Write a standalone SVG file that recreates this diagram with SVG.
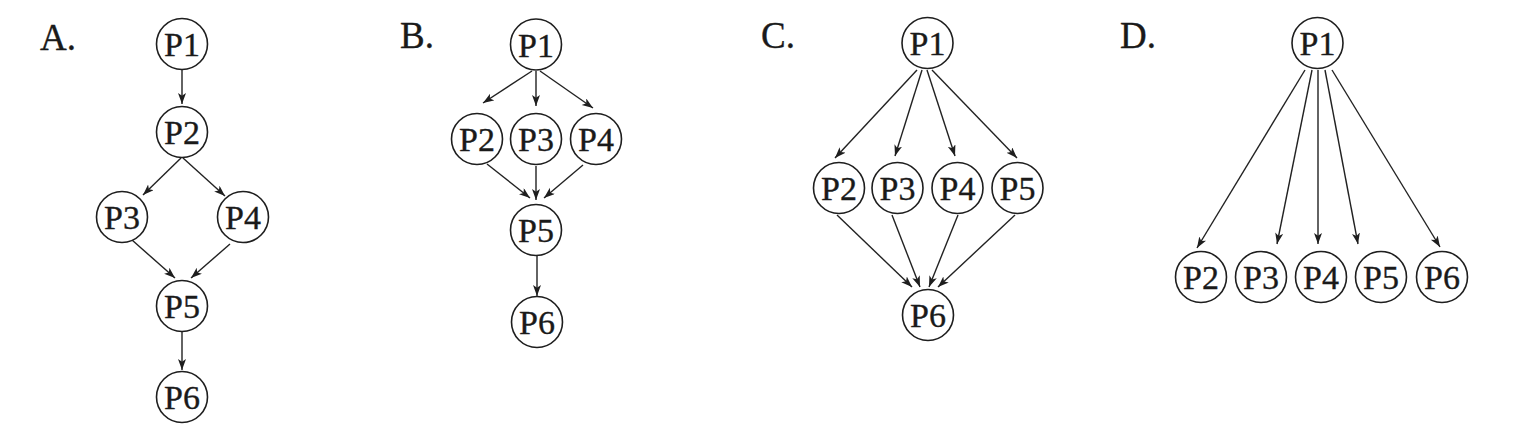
<svg xmlns="http://www.w3.org/2000/svg" width="1523" height="428" viewBox="0 0 1523 428">
<style>
.n circle{fill:#fff;stroke:#1e1e1e;stroke-width:1.6}
.n text,.lbl{font-family:"Liberation Serif","Times New Roman",serif;fill:#1a1a1a;stroke:#1a1a1a;stroke-width:0.35}
.n text{font-size:34px;text-anchor:middle}
.lbl{font-size:37px}
.e line{stroke:#222;stroke-width:1.4;fill:none;marker-end:url(#ah)}
</style>
<defs>
<marker id="ah" markerUnits="userSpaceOnUse" markerWidth="12" markerHeight="9" refX="11" refY="4" orient="auto" viewBox="0 0 12 9">
<path d="M0,0 L11,4 L0,8 L2.8,4 z" fill="#1e1e1e"/>
</marker>
</defs>
<rect width="1523" height="428" fill="#fff"/>
<text class="lbl" x="40" y="50">A.</text>
<text class="lbl" x="400" y="48">B.</text>
<text class="lbl" x="761" y="48">C.</text>
<text class="lbl" x="1120" y="48">D.</text>
<g class="e" id="connectors">
<line x1="182" y1="70" x2="182" y2="104"/>
<line x1="181" y1="158" x2="143" y2="195"/>
<line x1="183" y1="158" x2="225" y2="196"/>
<line x1="132" y1="240" x2="175" y2="278"/>
<line x1="230" y1="244" x2="191" y2="278"/>
<line x1="182" y1="332" x2="182" y2="370"/>
<line x1="532" y1="71" x2="483" y2="103"/>
<line x1="536" y1="71" x2="536" y2="106"/>
<line x1="540" y1="71" x2="593" y2="108"/>
<line x1="487" y1="164" x2="530" y2="198"/>
<line x1="536" y1="166" x2="536" y2="200"/>
<line x1="583" y1="165" x2="544" y2="198"/>
<line x1="537" y1="256" x2="537" y2="296"/>
<line x1="917" y1="70" x2="835" y2="158"/>
<line x1="922" y1="70" x2="895" y2="156"/>
<line x1="927" y1="70" x2="955" y2="156"/>
<line x1="932" y1="70" x2="1017" y2="158"/>
<line x1="837" y1="215" x2="912" y2="287"/>
<line x1="892" y1="215" x2="920" y2="287"/>
<line x1="958" y1="215" x2="929" y2="287"/>
<line x1="1015" y1="215" x2="938" y2="287"/>
<line x1="1305" y1="70" x2="1197" y2="248"/>
<line x1="1312" y1="70" x2="1277" y2="244"/>
<line x1="1318" y1="70" x2="1318" y2="244"/>
<line x1="1325" y1="70" x2="1358" y2="244"/>
<line x1="1332" y1="70" x2="1440" y2="247"/>
</g>
<g class="n" id="A-P1"><circle cx="182" cy="44" r="25.5"/><text x="182" y="56">P1</text></g>
<g class="n" id="A-P2"><circle cx="182" cy="132" r="25.5"/><text x="182" y="144">P2</text></g>
<g class="n" id="A-P3"><circle cx="122" cy="217" r="25.5"/><text x="122" y="229">P3</text></g>
<g class="n" id="A-P4"><circle cx="243" cy="217" r="25.5"/><text x="243" y="229">P4</text></g>
<g class="n" id="A-P5"><circle cx="182" cy="306" r="25.5"/><text x="182" y="318">P5</text></g>
<g class="n" id="A-P6"><circle cx="182" cy="397" r="25.5"/><text x="182" y="409">P6</text></g>
<g class="n" id="B-P1"><circle cx="536" cy="44.5" r="25.5"/><text x="536" y="56.5">P1</text></g>
<g class="n" id="B-P2"><circle cx="477" cy="139" r="25.5"/><text x="477" y="151">P2</text></g>
<g class="n" id="B-P3"><circle cx="536" cy="139" r="25.5"/><text x="536" y="151">P3</text></g>
<g class="n" id="B-P4"><circle cx="596" cy="139" r="25.5"/><text x="596" y="151">P4</text></g>
<g class="n" id="B-P5"><circle cx="536" cy="230" r="25.5"/><text x="536" y="242">P5</text></g>
<g class="n" id="B-P6"><circle cx="537" cy="322" r="25.5"/><text x="537" y="334">P6</text></g>
<g class="n" id="C-P1"><circle cx="927.5" cy="43" r="25.5"/><text x="927.5" y="55">P1</text></g>
<g class="n" id="C-P2"><circle cx="839" cy="188" r="25.5"/><text x="839" y="200">P2</text></g>
<g class="n" id="C-P3"><circle cx="897.5" cy="188" r="25.5"/><text x="897.5" y="200">P3</text></g>
<g class="n" id="C-P4"><circle cx="957.5" cy="188" r="25.5"/><text x="957.5" y="200">P4</text></g>
<g class="n" id="C-P5"><circle cx="1017.5" cy="188" r="25.5"/><text x="1017.5" y="200">P5</text></g>
<g class="n" id="C-P6"><circle cx="928" cy="315" r="25.5"/><text x="928" y="327">P6</text></g>
<g class="n" id="D-P1"><circle cx="1317.5" cy="43" r="25.5"/><text x="1317.5" y="55">P1</text></g>
<g class="n" id="D-P2"><circle cx="1201" cy="277" r="25.5"/><text x="1201" y="289">P2</text></g>
<g class="n" id="D-P3"><circle cx="1261" cy="277" r="25.5"/><text x="1261" y="289">P3</text></g>
<g class="n" id="D-P4"><circle cx="1321" cy="277" r="25.5"/><text x="1321" y="289">P4</text></g>
<g class="n" id="D-P5"><circle cx="1381" cy="277" r="25.5"/><text x="1381" y="289">P5</text></g>
<g class="n" id="D-P6"><circle cx="1442" cy="277" r="25.5"/><text x="1442" y="289">P6</text></g>
</svg>
